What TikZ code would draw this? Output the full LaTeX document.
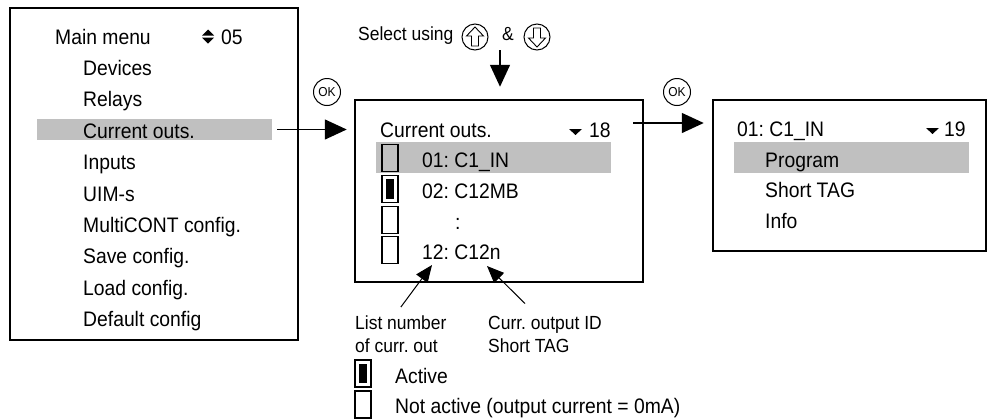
\documentclass[tikz,border=0pt]{standalone}
\usepackage{fontspec}
\setmainfont{Liberation Sans}[FakeStretch=0.92]
\usetikzlibrary{arrows.meta,positioning,calc}
\definecolor{selgray}{HTML}{C0C0C0}
\begin{document}
\frenchspacing
\begin{tikzpicture}[x=1pt, y=-1pt,
  every node/.style={inner sep=0pt},
  txt/.style={anchor=base west, font=\fontsize{21}{25}\selectfont},
  note/.style={anchor=base west, font=\fontsize{19}{23}\selectfont},
  frame/.style={draw, line width=2.5pt},
  sel/.style={fill=selgray, minimum width=235pt},
  chk/.style={draw, line width=1.6pt, minimum width=16pt, minimum height=27pt},
  okkey/.style={circle, draw, line width=1pt, minimum size=27pt, font=\fontsize{13}{14}\selectfont},
  navkey/.style={circle, draw, line width=1pt, minimum size=26pt},
  arr/.style={-{Triangle[length=22pt,width=20pt]}, line width=1.5pt},
  ann/.style={-{Triangle[length=17pt,width=14pt]}, line width=1pt}
]
\useasboundingbox (0,0) rectangle (988,418);

% main menu
\node[frame, minimum width=288pt, minimum height=332pt] (mainbox) at (154,174) {};
\node[sel, minimum height=21pt] (hlmain) at (154.5,129.5) {};
\node[txt] (mmtitle) at (55,44) {Main menu};
\fill (202,35.5) -- (214,35.5) -- (208,29.5) -- cycle
      (202,37.5) -- (214,37.5) -- (208,43.5) -- cycle;
\node[txt] (mmnum) at (221,44) {05};
\foreach \t [count=\i] in {Devices,Relays,Current outs.,Inputs,UIM-s,
    MultiCONT config.,Save config.,Load config.,Default config}
  \node[txt] (mm\i) at (83,{44+31.4*\i}) {\t};

% current outputs
\node[frame, minimum width=288pt, minimum height=182pt] (curbox) at (499,191) {};
\node[sel, minimum height=31pt] (hlcur) at (493.5,157.5) {};
\node[txt] (curtitle) at (380,137) {Current outs.};
\fill (569,129) -- (582,129) -- (575.5,135) -- cycle;
\node[txt] (curnum) at (589,137) {18};
\foreach \y [count=\i] in {158,189,220,250}
  \node[chk] (box\i) at (390,\y) {};
\fill ([shift={(4.5,4.5)}]box2.north west) rectangle ([shift={(-4.5,-4.5)}]box2.south east);
\node[txt] (row1) at (422,167) {01: C1\_IN};
\node[txt] (row2) at (422,198) {02: C12MB};
\node[txt] (row3) at (455,229) {:};
\node[txt] (row4) at (422,259) {12: C12n};

% sub menu
\node[frame, minimum width=273pt, minimum height=151pt] (subbox) at (849.5,175.5) {};
\node[sel, minimum height=31pt] (hlsub) at (851.5,157.5) {};
\node[txt] (subtitle) at (737,136) {01: C1\_IN};
\fill (926,128) -- (939,128) -- (932.5,134) -- cycle;
\node[txt] (subnum) at (944,136) {19};
\node[txt] (sub1) at (765,167) {Program};
\node[txt] (sub2) at (765,197.5) {Short TAG};
\node[txt] (sub3) at (765,228) {Info};

% keys
\node[okkey] (ok1) at (327,92) {OK};
\node[okkey] (ok2) at (677,92) {OK};
\node[note] (seltxt) at (358,40) {Select using};
\node[navkey] (kup) at (475,37) {};
\node[note] (amp) at (502,40) {\&};
\node[navkey] (kdn) at (537,37) {};
\draw[line width=0.9pt, shift={(kup.center)}] (0,-10) -- (8.5,-1) -- (3.5,-1) -- (3.5,9)
  -- (-3.5,9) -- (-3.5,-1) -- (-8.5,-1) -- cycle;
\draw[line width=0.9pt, shift={(kdn.center)}] (0,10) -- (8.5,1) -- (3.5,1) -- (3.5,-9)
  -- (-3.5,-9) -- (-3.5,1) -- (-8.5,1) -- cycle;

\draw[arr, shorten >=7pt] ([shift={(5,0)}]hlmain.east) -- (hlmain.east -| curbox.west);
\coordinate (a2) at (633,123);
\draw[arr, shorten >=8pt] (a2) -- (a2 -| subbox.west);
\coordinate (a3) at (500,50);
\draw[arr, shorten >=12pt] (a3) -- (a3 |- curbox.north);

% labels
\node[note] (lnum) at (355,329) {List number};
\node[note] (lnum2) at (355,352) {of curr. out};
\node[note] (cid) at (488,329) {Curr. output ID};
\node[note] (cid2) at (488,352) {Short TAG};
\draw[ann] ([shift={(0,-8)}]lnum.north) -- ([shift={(10,6)}]row4.base west);
\draw[ann] ([shift={(37,-12)}]cid.north west) -- ([shift={(65,7)}]row4.base west);

% legend
\node[chk] (lgon) at (363,373.5) {};
\fill ([shift={(4.5,4.5)}]lgon.north west) rectangle ([shift={(-4.5,-4.5)}]lgon.south east);
\node[txt] (lgontxt) at (395,383) {Active};
\node[chk] (lgoff) at (363,404.5) {};
\node[txt] (lgofftxt) at (395,413) {Not active (output current = 0mA)};
\end{tikzpicture}
\end{document}
